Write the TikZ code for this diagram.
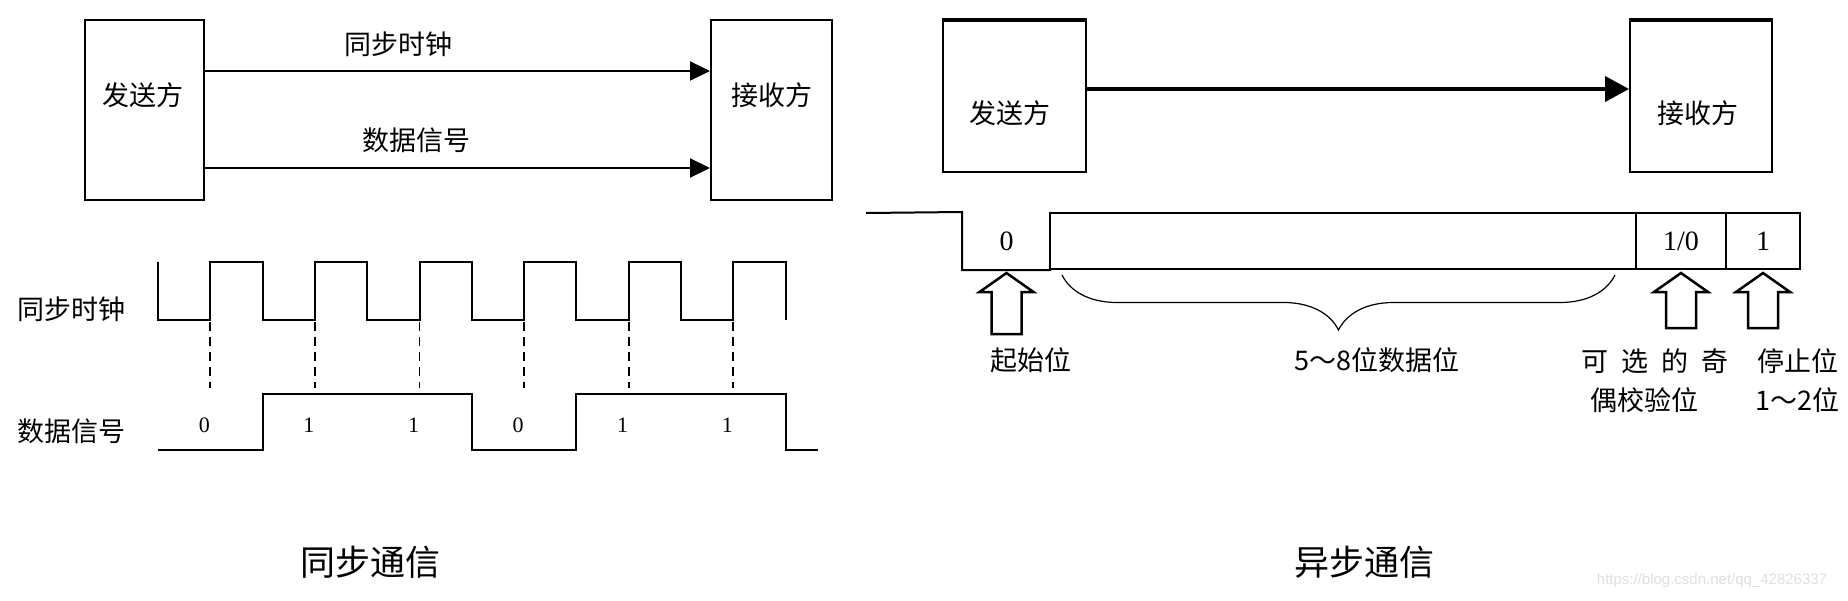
\documentclass[tikz,border=0pt]{standalone}
\usepackage{fontspec}
\setmainfont{Liberation Serif}
\newfontfamily\cjk{Noto Sans CJK SC}
\newfontfamily\wmfont{Liberation Sans}
\usepackage{tikz}
\usetikzlibrary{arrows.meta}
\usetikzlibrary{calc}
\usetikzlibrary{decorations.pathreplacing}

\begin{document}
\begin{tikzpicture}[x=1pt,y=-1pt,
		box/.style={draw, line width=2pt, inner sep=0pt},
		frame/.style={line width=2pt, inner sep=0pt, minimum height=56pt, font=\fontsize{28}{32}\selectfont},
		hz/.style={font=\cjk\fontsize{27}{32}\selectfont},
		bit/.style={font=\fontsize{22}{26}\selectfont},
		title/.style={font=\cjk\fontsize{35}{40}\selectfont},
		wave/.style={line width=2pt},
		hollow/.style={line width=2.5pt, line join=miter}]
		\useasboundingbox (0,0) rectangle (1848,600);
		
		\def\half{52.3}
		\def\hi{262}
		\def\lo{320}
		
		% Synchronous: sender, receiver and the two lines
		\node[box, minimum width=119pt, minimum height=180pt] (snd) at (144.5,110) {};
		\node[hz] (sndtxt) at (143,95) {发送方};
		\node[box, minimum width=121pt, minimum height=180pt] (rcv) at (771.5,110) {};
		\node[hz] (rcvtxt) at (772,95) {接收方};
		\draw[wave, -{Triangle[length=20pt,width=19pt]}] ($(snd.east)+(0,-39)$) -- ($(rcv.west)+(0,-39)$);
		\draw[wave, -{Triangle[length=20pt,width=19pt]}] ($(snd.east)+(0,58)$) -- ($(rcv.west)+(0,58)$);
		\node[hz] (lclk) at (398,44) {同步时钟};
		\node[hz] (ldata) at (416,140) {数据信号};
		
		% Clock and data waveforms
		\node[hz] (wclk) at (71,309) {同步时钟};
		\node[hz] (wdata) at (71,431) {数据信号};
		\draw[wave] (158,\hi) -- (158,\lo)
		foreach \k in {0,...,5} { -- ({158+\half*(2*\k+1)},\lo) -- ({158+\half*(2*\k+1)},\hi)
			-- ({158+\half*(2*\k+2)},\hi) -- ({158+\half*(2*\k+2)},\lo) };
		\foreach \k in {0,...,5}
		\draw[line width=1.8pt, dash pattern=on 9pt off 6pt] ({158+\half*(2*\k+1)},{\lo+2}) -- ++(0,66);
		\draw[wave] (158,450) -- ({158+\half*2},450) -- ({158+\half*2},394) -- ({158+\half*6},394)
		-- ({158+\half*6},450) -- ({158+\half*8},450) -- ({158+\half*8},394) -- ({158+\half*12},394)
		-- ({158+\half*12},450) -- (818,450);
		\foreach \k/\b in {0/0,1/1,2/1,3/0,4/1,5/1}
		\node[bit] (bit\k) at ({158+\half*(2*\k+1)-6},425) {\b};
		
		% Asynchronous: sender, receiver and the line
		\node[box, minimum width=143pt, minimum height=151pt] (asnd) at (1014.5,96.5) {};
		\draw[line width=4pt] (asnd.north west) -- (asnd.north east);
		\node[hz] (asndtxt) at (1010,113) {发送方};
		\node[box, minimum width=142pt, minimum height=151pt] (arcv) at (1701,96.5) {};
		\draw[line width=4pt] (arcv.north west) -- (arcv.north east);
		\node[hz] (arcvtxt) at (1698,113) {接收方};
		\draw[line width=4pt, -{Triangle[length=24pt,width=25pt]}] ($(asnd.east)+(0,-7.5)$) -- ($(arcv.west)+(0,-7.5)$);
		
		% Character frame
		\node[frame, minimum width=87pt] (sb) at (1006.5,241) {0};
		\node[frame, draw, minimum width=586pt] (dat) at (1343,241) {};
		\node[frame, draw, minimum width=90pt] (par) at (1681,241) {1/0};
		\node[frame, draw, minimum width=74pt] (stp) at (1763,241) {1};
		\draw[wave] (866,213) -- (sb.north west) -- (sb.south west) -- (sb.south east);
		
		% Hollow arrows and the brace
		\foreach \b/\len in {sb/61,par/55,stp/55}
		\draw[hollow] ($(\b.south)+(0,3)$) -- ++(27,19) -- ++(-12,0) -- ++(0,{\len-19})
		-- ++(-30,0) -- ++(0,{19-\len}) -- ++(-12,0) -- cycle;
		\draw[line width=1.2pt, decorate, decoration={brace, mirror, amplitude=55pt}] (1062,275) -- (1615,275);
		
		% Labels of the frame
		\node[hz] (lsb) at (1031,360) {起始位};
		\node[hz] (ldat) at (1377,360) {5～8位数据位};
		\node[hz] (lpar1) at (1655,361) {可\hspace{13pt}选\hspace{13pt}的\hspace{13pt}奇};
		\node[hz] (lpar2) at (1644,400) {偶校验位};
		\node[hz] (lstp1) at (1798,361) {停止位};
		\node[hz] (lstp2) at (1797,400) {1～2位};
		
		% Titles
		\node[title] (sync) at (370,562) {同步通信};
		\node[title] (async) at (1364,562) {异步通信};
		\node[font=\wmfont\fontsize{15}{18}\selectfont, text=gray!25] (wm) at (1712,581) {https://blog.csdn.net/qq\_42826337};
	\end{tikzpicture}
\end{document}
